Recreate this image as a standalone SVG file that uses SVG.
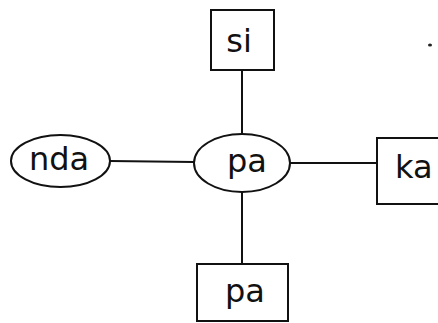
<svg xmlns="http://www.w3.org/2000/svg" width="438" height="323" viewBox="0 0 438 323">
<style>
.n{fill:#fff;stroke:#111;stroke-width:2}
.e{stroke:#111;stroke-width:2;fill:none}
text{font-family:"DejaVu Sans",sans-serif;font-size:32px;fill:#111}
</style>
<rect width="438" height="323" fill="#fff"/>
<g id="connectors">
<line class="e" x1="110" y1="161" x2="194" y2="162"/>
<line class="e" x1="290" y1="163" x2="377" y2="163"/>
<line class="e" x1="242" y1="70" x2="242" y2="134"/>
<line class="e" x1="242" y1="192" x2="242" y2="264"/>
</g>
<g id="nda"><ellipse class="n" cx="60.5" cy="161" rx="49.5" ry="26"/><text x="59" y="170" text-anchor="middle">nda</text></g>
<g id="pa-center"><ellipse class="n" cx="242" cy="163" rx="48" ry="29"/><text x="247" y="172" text-anchor="middle">pa</text></g>
<g id="si"><rect class="n" x="211" y="10" width="63" height="60"/><text x="239" y="52" text-anchor="middle">si</text></g>
<g id="ka"><rect class="n" x="377" y="138" width="70" height="66"/><text x="395" y="178">ka</text></g>
<g id="pa-bottom"><rect class="n" x="197" y="264" width="91" height="57"/><text x="245" y="302" text-anchor="middle">pa</text></g>
<ellipse cx="430" cy="45" rx="2" ry="1.5" fill="#222"/>
</svg>
